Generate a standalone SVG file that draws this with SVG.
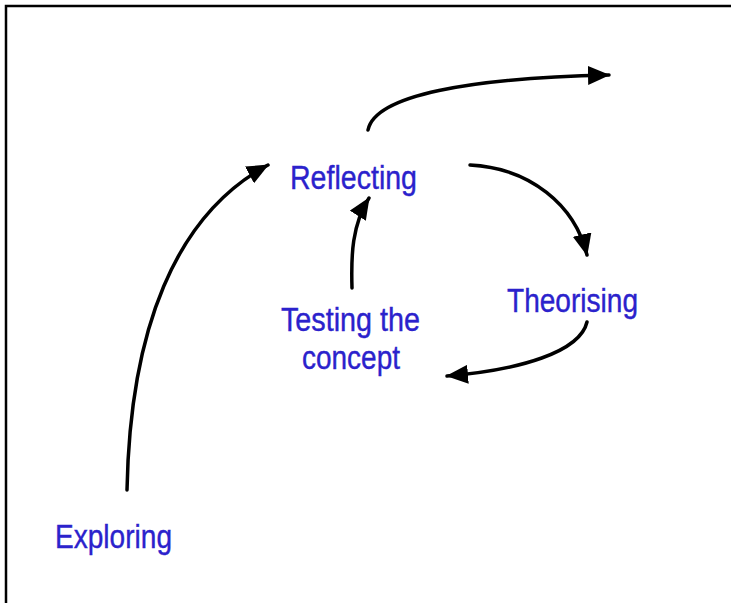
<svg xmlns="http://www.w3.org/2000/svg" width="731" height="603" viewBox="0 0 731 603">
<style>
.lbl{font-family:"Liberation Sans",Arial,sans-serif;font-size:34px;fill:#2b22cc;stroke:#2b22cc;stroke-width:0.4}
.conn{fill:none;stroke:#000;stroke-width:3.5;stroke-linecap:round}
.frame{stroke:#000;stroke-width:2.5;fill:none}
</style>
<defs>
<marker id="ah" viewBox="0 0 22 19" refX="21" refY="9.5" markerWidth="22" markerHeight="19" markerUnits="userSpaceOnUse" orient="auto">
<path d="M0,0 L22,9.5 L0,19 z" fill="#000"/>
</marker>
</defs>
<rect width="731" height="603" fill="#fff"/>
<g id="frame">
<path class="frame" d="M6,603 V6 H731"/>
</g>
<g id="connectors">
<path class="conn" marker-end="url(#ah)" d="M127,490 C130,330 175,215 268,165"/>
<path class="conn" marker-end="url(#ah)" d="M368,130 C375,95 470,78 609,75"/>
<path class="conn" marker-end="url(#ah)" d="M470,165 C530,168 575,205 587,255"/>
<path class="conn" marker-end="url(#ah)" d="M587,322 C580,352 520,370 447,376"/>
<path class="conn" marker-end="url(#ah)" d="M352,288 C351,255 352,225 369,198"/>
</g>
<g id="reflecting"><text class="lbl" x="290" y="189" textLength="127" lengthAdjust="spacingAndGlyphs">Reflecting</text></g>
<g id="theorising"><text class="lbl" x="507" y="312" textLength="131" lengthAdjust="spacingAndGlyphs">Theorising</text></g>
<g id="testing"><text class="lbl" x="281" y="331" textLength="139" lengthAdjust="spacingAndGlyphs">Testing the</text><text class="lbl" x="302" y="369" textLength="98" lengthAdjust="spacingAndGlyphs">concept</text></g>
<g id="exploring"><text class="lbl" x="55" y="548" textLength="117" lengthAdjust="spacingAndGlyphs">Exploring</text></g>
</svg>
